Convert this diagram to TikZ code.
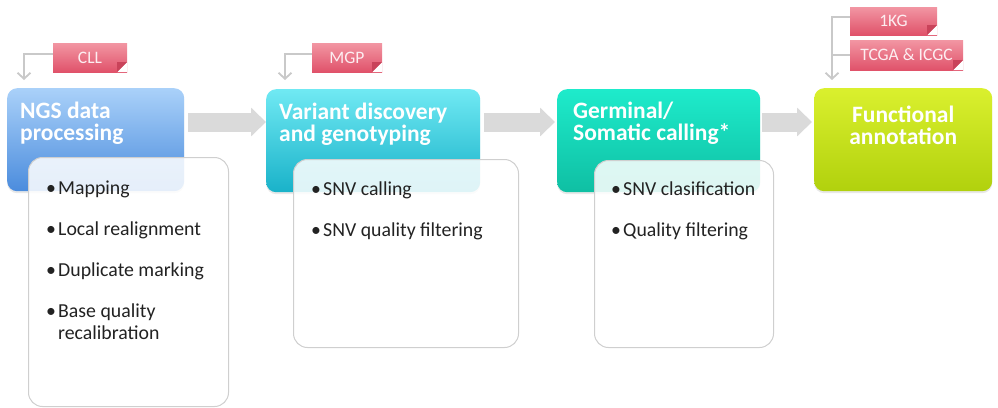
\documentclass[tikz,border=0pt]{standalone}
\usepackage{fontspec}
\setmainfont{Carlito}
\usetikzlibrary{arrows.meta,shadows}

\definecolor{ngsTop}{HTML}{AAD1F9}
\definecolor{ngsBot}{HTML}{4B8CDD}
\definecolor{varTop}{HTML}{70E9F3}
\definecolor{varBot}{HTML}{19B2C9}
\definecolor{somTop}{HTML}{1EEBCB}
\definecolor{somBot}{HTML}{0FBFA3}
\definecolor{funTop}{HTML}{DAF02E}
\definecolor{funBot}{HTML}{B1D10D}
\definecolor{tagTop}{HTML}{F296A3}
\definecolor{tagBot}{HTML}{E0526A}
\definecolor{tagFold}{HTML}{C9435A}
\definecolor{tagText}{HTML}{FDEEF1}
\definecolor{flowGrey}{HTML}{DADADA}
\definecolor{feedGrey}{HTML}{C9C9C9}
\definecolor{cardLine}{HTML}{CFCFCF}
\definecolor{itemText}{HTML}{222222}

\begin{document}
\begin{tikzpicture}[x=1pt,y=1pt,
  stage/.style={rounded corners=10pt, minimum height=103pt, anchor=north west, inner sep=0pt,
    drop shadow={opacity=0.18,shadow xshift=0pt,shadow yshift=-2pt}},
  title/.style={anchor=north west, inner sep=0pt, align=left, text=white,
    font=\fontsize{23.5}{22}\selectfont\bfseries},
  card/.style={draw=cardLine, line width=1pt, fill=white, fill opacity=0.86,
    rounded corners=14pt, anchor=north west, inner sep=0pt},
  items/.style={anchor=north west, inner sep=0pt, align=left, text=itemText,
    font=\fontsize{19.8}{22}\selectfont},
  tag/.style={minimum height=29pt, inner sep=0pt, text=tagText,
    font=\fontsize{17.5}{17.5}\selectfont, top color=tagTop, bottom color=tagBot,
    path picture={
      \fill[white] (path picture bounding box.south east) -- ++(-10pt,0pt) -- ++(10pt,10pt) -- cycle;
      \fill[tagFold] ([xshift=-10pt]path picture bounding box.south east) -- ++(10pt,10pt) -- ++(-10pt,0pt) -- cycle;}},
  feed/.style={draw=feedGrey, line width=1.8pt, -{Straight Barb[length=6pt,width=13pt]}},
  flow/.style={draw=flowGrey, line width=19pt, -{Triangle[length=15pt,width=28pt]}}
]

\useasboundingbox (0,0) rectangle (998,-407);

% stages
\node[stage, minimum width=177pt, top color=ngsTop, bottom color=ngsBot] (ngs) at (7,-88) {};
\node[stage, minimum width=214pt, top color=varTop, bottom color=varBot] (var) at (266,-89) {};
\node[stage, minimum width=203pt, top color=somTop, bottom color=somBot] (som) at (557,-89) {};
\node[stage, minimum width=178pt, top color=funTop, bottom color=funBot] (fun) at (814,-88) {};

\node[title] (t1) at ([shift={(13pt,-14pt)}]ngs.north west) {NGS data\\processing};
\node[title] (t2) at ([shift={(13pt,-14pt)}]var.north west) {Variant discovery\\and genotyping};
\node[title] (t3) at ([shift={(16pt,-13pt)}]som.north west) {Germinal/\\Somatic calling*};
\node[title, anchor=north, align=center] (t4) at ([yshift=-18pt]fun.north) {Functional\\annotation};

% flow between stages
\draw[flow] ([shift={(4pt,-34pt)}]ngs.north east) -- ([yshift=-33pt]var.north west);
\draw[flow] ([shift={(4pt,-33pt)}]var.north east) -- ([shift={(-2pt,-33pt)}]som.north west);
\draw[flow] ([shift={(2pt,-33pt)}]som.north east) -- ([shift={(-2pt,-34pt)}]fun.north west);

% task cards
\node[card, minimum width=200pt, minimum height=249pt] (c1) at (28,-157) {};
\node[card, minimum width=225pt, minimum height=188pt] (c2) at (293,-159) {};
\node[card, minimum width=179pt, minimum height=187pt] (c3) at (594,-160) {};

\node[items] (l1) at ([shift={(18pt,-24pt)}]c1.north west)
  {\makebox[12pt][l]{\textbullet}Mapping\\[19pt]
   \makebox[12pt][l]{\textbullet}Local realignment\\[19pt]
   \makebox[12pt][l]{\textbullet}Duplicate marking\\[19pt]
   \makebox[12pt][l]{\textbullet}Base quality\\
   \hspace*{12pt}recalibration};
\node[items] (l2) at ([shift={(18pt,-23pt)}]c2.north west)
  {\makebox[12pt][l]{\textbullet}SNV calling\\[19pt]
   \makebox[12pt][l]{\textbullet}SNV quality filtering};
\node[items] (l3) at ([shift={(17pt,-22pt)}]c3.north west)
  {\makebox[12pt][l]{\textbullet}SNV clasification\\[19pt]
   \makebox[12pt][l]{\textbullet}Quality filtering};

% resources
\node[tag, minimum width=74pt] (cll) at (90,-57.5) {CLL};
\node[tag, minimum width=70pt] (mgp) at (347,-57.5) {MGP};
\node[tag, minimum width=87pt, minimum height=28pt] (kg) at (893.5,-21) {1KG};
\node[tag, minimum width=113pt, minimum height=30pt] (tcga) at (906.5,-55) {TCGA \& ICGC};

\coordinate (in1) at (24,-80);
\coordinate (in2) at (285,-80);
\coordinate (in4) at (832,-80);

\draw[feed] ([yshift=3.5pt]cll.west) -| (in1);
\draw[feed] ([yshift=3.5pt]mgp.west) -| (in2);
\draw[feed] ([yshift=4pt]kg.west) -| (in4);
\draw[draw=feedGrey, line width=1.8pt] (tcga.west) -- (tcga.west -| in4);

\end{tikzpicture}
\end{document}
